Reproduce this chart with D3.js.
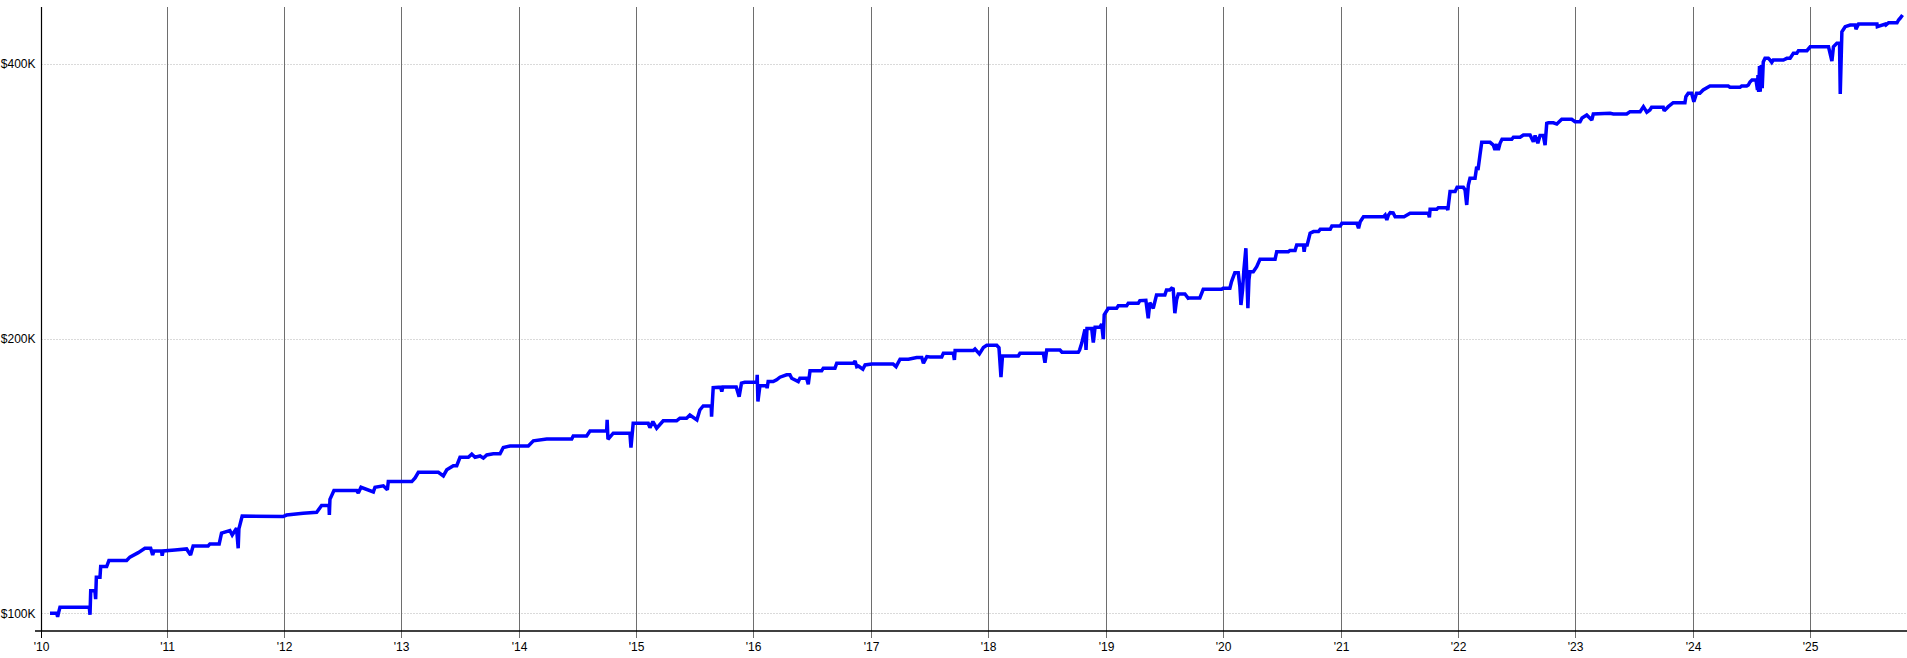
<!DOCTYPE html>
<html>
<head>
<meta charset="utf-8">
<script src="https://cdn.jsdelivr.net/npm/d3@7"></script>
<style>
  html, body { margin: 0; padding: 0; background: #fff; }
  svg { display: block; }
  text { font-family: "Liberation Sans", Arial, sans-serif; font-size: 12px; fill: #000; }
</style>
</head>
<body>
<svg id="chart" width="1907" height="658"></svg>
<script>
// ---- Data (dates as decimal years, equity in $K) ----
const dates = [
2010.007,2010.064,2010.072,2010.079,2010.092,2010.342,2010.348,2010.354,2010.390,2010.396,
2010.402,2010.433,2010.439,2010.490,2010.509,2010.660,2010.688,2010.759,2010.816,2010.865,
2010.882,2010.893,2010.958,2010.963,2010.972,2011.072,2011.171,2011.205,2011.227,2011.355,
2011.370,2011.449,2011.469,2011.540,2011.560,2011.597,2011.611,2011.617,2011.645,2011.994,
2012.023,2012.164,2012.279,2012.321,2012.384,2012.387,2012.392,2012.426,2012.619,2012.633,
2012.656,2012.761,2012.775,2012.846,2012.880,2012.888,2013.088,2013.116,2013.144,2013.314,
2013.357,2013.386,2013.442,2013.471,2013.499,2013.570,2013.599,2013.627,2013.670,2013.698,
2013.727,2013.783,2013.840,2013.868,2013.925,2014.081,2014.124,2014.238,2014.451,2014.464,
2014.578,2014.607,2014.749,2014.753,2014.760,2014.805,2014.947,2014.956,2014.975,2015.103,
2015.118,2015.143,2015.175,2015.231,2015.345,2015.373,2015.430,2015.458,2015.518,2015.543,
2015.572,2015.640,2015.643,2015.657,2015.720,2015.730,2015.740,2015.853,2015.878,2015.898,
2015.926,2016.029,2016.032,2016.038,2016.055,2016.112,2016.116,2016.125,2016.168,2016.197,
2016.225,2016.282,2016.310,2016.325,2016.381,2016.395,2016.452,2016.466,2016.481,2016.580,
2016.594,2016.693,2016.708,2016.850,2016.864,2016.878,2016.892,2016.930,2016.949,2017.006,
2017.187,2017.213,2017.247,2017.318,2017.389,2017.432,2017.446,2017.475,2017.503,2017.602,
2017.616,2017.701,2017.710,2017.716,2017.872,2017.886,2017.923,2017.957,2017.986,2018.071,
2018.090,2018.107,2018.120,2018.255,2018.269,2018.468,2018.482,2018.497,2018.610,2018.627,
2018.766,2018.777,2018.795,2018.823,2018.832,2018.840,2018.880,2018.894,2018.909,2018.951,
2018.965,2018.979,2018.987,2019.022,2019.093,2019.107,2019.178,2019.192,2019.277,2019.291,
2019.342,2019.362,2019.376,2019.405,2019.433,2019.504,2019.518,2019.546,2019.561,2019.575,
2019.589,2019.604,2019.618,2019.675,2019.703,2019.717,2019.802,2019.831,2019.988,2020.001,
2020.058,2020.072,2020.100,2020.129,2020.143,2020.152,2020.166,2020.177,2020.194,2020.203,
2020.211,2020.220,2020.229,2020.257,2020.286,2020.314,2020.442,2020.456,2020.555,2020.569,
2020.612,2020.626,2020.683,2020.689,2020.698,2020.715,2020.740,2020.769,2020.811,2020.826,
2020.911,2020.925,2020.996,2021.010,2021.138,2021.152,2021.166,2021.194,2021.365,2021.379,
2021.393,2021.407,2021.422,2021.447,2021.464,2021.540,2021.591,2021.747,2021.756,2021.762,
2021.819,2021.832,2021.904,2021.913,2021.932,2021.975,2021.992,2022.045,2022.060,2022.074,
2022.088,2022.102,2022.145,2022.159,2022.170,2022.187,2022.202,2022.273,2022.301,2022.315,
2022.330,2022.343,2022.358,2022.375,2022.458,2022.472,2022.529,2022.557,2022.614,2022.642,
2022.657,2022.680,2022.699,2022.727,2022.742,2022.756,2022.770,2022.813,2022.842,2022.884,
2022.969,2022.997,2023.040,2023.057,2023.097,2023.140,2023.153,2023.296,2023.324,2023.438,
2023.466,2023.552,2023.580,2023.609,2023.635,2023.650,2023.749,2023.757,2023.792,2023.834,
2023.934,2023.942,2023.962,2023.991,2024.010,2024.033,2024.061,2024.089,2024.147,2024.302,
2024.317,2024.402,2024.416,2024.459,2024.473,2024.487,2024.504,2024.538,2024.551,2024.555,
2024.561,2024.568,2024.574,2024.583,2024.591,2024.600,2024.615,2024.643,2024.657,2024.672,
2024.685,2024.771,2024.800,2024.828,2024.856,2024.885,2024.899,2024.971,2024.999,2025.155,
2025.184,2025.197,2025.226,2025.249,2025.255,2025.269,2025.297,2025.340,2025.383,2025.389,
2025.411,2025.568,2025.571,2025.639,2025.645,2025.667,2025.739,2025.752,2025.767,2025.786
];
const equityK = [
100.0,100.0,99.1,100.0,101.5,101.5,99.6,105.8,105.8,103.6,
109.5,109.5,112.5,112.5,114.2,114.2,115.2,116.5,117.8,117.8,
115.8,117.0,117.0,115.6,117.0,117.3,117.6,115.8,118.5,118.5,
119.1,119.1,122.4,123.2,121.8,123.9,117.8,123.7,127.8,127.6,
128.1,128.7,129.0,131.2,131.2,128.1,133.3,136.3,136.3,135.4,
137.4,135.8,137.4,137.9,136.5,139.4,139.4,140.7,142.7,142.7,
141.4,143.6,145.1,145.1,148.2,148.2,149.4,148.2,148.7,147.9,
149.1,149.5,149.5,151.9,152.5,152.5,154.5,155.2,155.2,156.4,
156.4,158.4,158.4,162.9,155.1,157.5,157.5,151.9,161.5,161.5,
159.7,162.2,159.5,162.5,162.5,163.6,163.6,164.9,162.9,167.0,
168.7,168.7,164.2,176.7,176.9,174.9,177.0,177.0,172.7,178.7,
179.1,179.1,182.5,170.6,177.5,177.5,176.4,179.4,179.4,180.2,
181.4,182.5,182.5,180.9,179.4,180.9,180.9,178.2,184.4,184.4,
185.6,185.6,187.9,187.9,189.0,186.3,186.6,185.1,187.1,187.6,
187.6,186.3,189.8,189.8,190.6,190.6,187.9,191.1,190.9,190.9,
192.7,192.7,189.5,194.0,194.0,194.8,192.4,195.5,196.6,196.6,
195.4,181.4,191.4,191.4,192.7,192.7,188.2,194.3,194.3,193.2,
193.2,194.3,197.6,204.7,194.3,205.2,205.2,198.0,205.8,205.8,
207.5,199.7,212.3,215.9,215.9,217.2,217.2,218.6,218.6,220.1,
220.3,210.5,218.9,215.9,223.3,223.3,226.1,226.1,227.1,226.7,
213.2,220.5,223.8,223.8,221.4,221.6,221.6,226.5,226.5,227.1,
227.1,230.9,236.2,236.2,227.9,217.7,226.1,237.8,251.2,232.0,
215.9,232.0,236.8,236.8,239.8,244.3,244.3,249.0,249.0,249.8,
249.8,253.3,253.3,249.0,253.3,253.3,260.9,262.0,262.0,263.5,
263.5,265.7,265.7,267.5,267.5,264.2,268.6,272.0,272.0,273.2,
269.8,273.2,274.8,274.6,272.0,272.0,274.4,274.4,271.6,277.2,
277.2,278.3,278.3,276.7,289.8,289.8,293.0,293.0,291.0,280.2,
294.7,299.7,299.7,308.6,306.0,317.9,328.2,328.2,325.9,321.9,
326.7,321.9,327.4,330.7,330.7,332.4,332.4,334.3,334.3,328.7,
333.8,327.4,333.8,333.8,325.9,344.3,344.8,344.8,343.7,347.8,
347.8,345.7,345.7,349.0,351.6,347.2,352.5,353.1,352.5,352.5,
354.6,354.6,359.1,354.1,356.1,358.6,358.6,355.3,359.1,362.7,
362.7,368.2,371.4,371.4,363.6,371.4,371.4,374.5,378.3,378.3,
377.1,377.1,378.3,378.3,379.3,382.2,384.1,384.1,374.5,389.0,
372.8,397.9,373.0,398.9,376.2,401.9,405.7,405.7,404.0,401.6,
404.0,404.0,405.7,405.7,410.8,410.8,413.6,413.6,417.7,417.7,
402.9,417.7,421.3,421.3,370.7,433.9,439.4,441.3,441.3,436.6,
442.4,442.4,439.4,442.4,441.3,443.8,443.8,446.9,449.1,452.6
];
const xDomainYears = [2009.926, 2025.824];
const yDomainK = [95.6, 461.8];
const yTickValuesK = [100, 200, 400];
const yTickLabels = ["$100K", "$200K", "$400K"];
const xTickYears = [2011, 2012, 2013, 2014, 2015, 2016, 2017, 2018, 2019, 2020, 2021, 2022, 2023, 2024, 2025];
const xTickLabels = ["'10", "'11", "'12", "'13", "'14", "'15", "'16", "'17", "'18", "'19", "'20", "'21", "'22", "'23", "'24", "'25"];

// ---- helpers ----
function decToDate(t) {
  const y = Math.floor(t);
  const s = Date.UTC(y, 0, 1), e = Date.UTC(y + 1, 0, 1);
  return new Date(s + (t - y) * (e - s));
}

const W = 1907, H = 658;
const margin = { left: 40.5, right: 0, top: 7, bottom: 27 };
const plotBottom = H - margin.bottom; // 631

const x = d3.scaleUtc()
  .domain(xDomainYears.map(decToDate))
  .range([margin.left, W - margin.right]);
const y = d3.scaleLog()
  .domain(yDomainK)
  .range([plotBottom, margin.top]);

const svg = d3.select("#chart");

const data = dates.map((t, i) => ({ date: decToDate(t), v: equityK[i] }));

// horizontal dotted gridlines
svg.append("g").selectAll("line")
  .data(yTickValuesK)
  .join("line")
  .attr("x1", margin.left + 1).attr("x2", W)
  .attr("y1", d => Math.round(y(d)) + 0.5).attr("y2", d => Math.round(y(d)) + 0.5)
  .attr("stroke", "#b4b4b4").attr("stroke-width", 1)
  .attr("stroke-dasharray", "1,2");

// vertical year gridlines
const xTickDates = [x.domain()[0]].concat(xTickYears.map(yr => new Date(Date.UTC(yr, 0, 1))));
svg.append("g").selectAll("line")
  .data(xTickYears.map(yr => new Date(Date.UTC(yr, 0, 1))))
  .join("line")
  .attr("x1", d => Math.round(x(d)) + 0.5).attr("x2", d => Math.round(x(d)) + 0.5)
  .attr("y1", margin.top).attr("y2", plotBottom)
  .attr("stroke", "#6e6e6e").attr("stroke-width", 1);

// x axis (ticks below + labels)
const xAxis = d3.axisBottom(x)
  .tickValues(xTickDates)
  .tickFormat((d, i) => xTickLabels[i])
  .tickSizeInner(7).tickSizeOuter(0).tickPadding(4);
const gx = svg.append("g").attr("transform", `translate(0,${plotBottom})`).call(xAxis);
gx.select(".domain").remove();
gx.selectAll(".tick").attr("transform", d => `translate(${Math.round(x(d)) + 0.5},0)`);
gx.selectAll(".tick line").attr("stroke", (d, i) => i === 0 ? "#000" : "#6e6e6e");
gx.selectAll(".tick text")
  .attr("font-family", "Liberation Sans, Arial, sans-serif")
  .attr("font-size", 12).attr("fill", "#000");

// y axis labels
const yAxis = d3.axisLeft(y)
  .tickValues(yTickValuesK)
  .tickFormat((d, i) => yTickLabels[i])
  .tickSize(0).tickPadding(5);
const gy = svg.append("g").attr("transform", `translate(${margin.left},0)`).call(yAxis);
gy.select(".domain").remove();
gy.selectAll(".tick text")
  .attr("font-family", "Liberation Sans, Arial, sans-serif")
  .attr("font-size", 12).attr("fill", "#000");

// axis lines
svg.append("line")
  .attr("x1", 35).attr("x2", W)
  .attr("y1", plotBottom).attr("y2", plotBottom)
  .attr("stroke", "#000").attr("stroke-width", 1.6);
svg.append("line")
  .attr("x1", Math.round(margin.left) + 0.5).attr("x2", Math.round(margin.left) + 0.5)
  .attr("y1", margin.top).attr("y2", plotBottom)
  .attr("stroke", "#000").attr("stroke-width", 1.2);

// equity line
const line = d3.line().x(d => x(d.date)).y(d => y(d.v));
svg.append("path")
  .datum(data)
  .attr("d", line)
  .attr("fill", "none")
  .attr("stroke", "#0000ff")
  .attr("stroke-width", 3.5)
  .attr("stroke-linejoin", "miter")
  .attr("stroke-miterlimit", 2);
</script>
</body>
</html>
